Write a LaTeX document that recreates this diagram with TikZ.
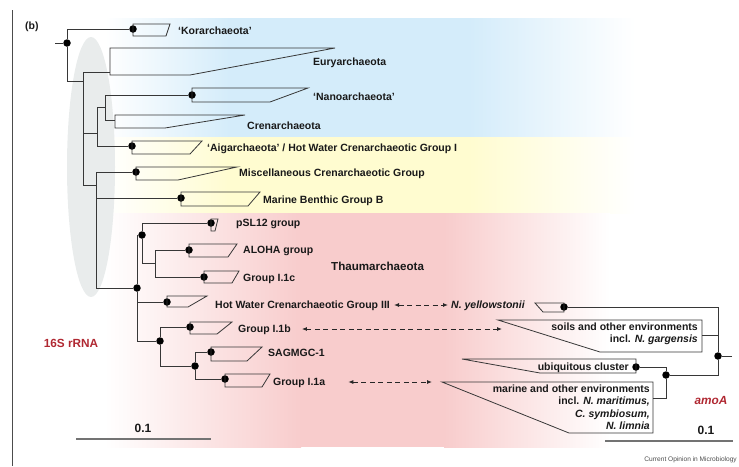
\documentclass[tikz,border=0pt]{standalone}
\usepackage{fontspec}
\setmainfont{Liberation Sans}
\usepackage{xcolor}
\usepackage{tikz}
\usetikzlibrary{arrows.meta}

\definecolor{branchgray}{RGB}{55,55,55}
\definecolor{bandblue}{RGB}{212,236,250}
\definecolor{bandyellow}{RGB}{255,252,208}
\definecolor{bandpink}{RGB}{248,204,204}
\definecolor{ovalgray}{RGB}{233,236,236}
\definecolor{markerred}{RGB}{176,40,50}

\tikzset{
  vertex/.style={circle,fill=black,minimum size=7.5pt,inner sep=0pt},
  branch/.style={draw=branchgray,line width=0.9pt},
  clade/.style={draw=branchgray,line width=0.8pt},
  cladename/.style={font=\fontsize{10.5}{12.5}\selectfont\bfseries,text=black!90,inner sep=0pt},
  taxon/.style={cladename,text height=7.5pt,text depth=0pt},
  marker/.style={cladename,font=\fontsize{11.8}{14}\selectfont\bfseries,text=markerred},
  link/.style={draw=black!85,line width=0.9pt,dash pattern=on 5pt off 3.5pt,
    {Latex[length=5pt,width=4pt]}-{Latex[length=5pt,width=4pt]}},
  scalebar/.style={draw=black!55,line width=1.1pt},
}

\newcommand{\cladewedge}[5]{%
  \draw[clade] ([shift={(0,-#2)}]#1.center) -- ++(#4,0)
    -- ([shift={(#5,#3)}]#1.center) -- ([shift={(0,#3)}]#1.center) -- cycle;}

\begin{document}
\begin{tikzpicture}[x=1pt,y=-1pt]
\useasboundingbox (0,0) rectangle (739,466);

\foreach \col/\ytop/\ybot/\xin/\xout in {bandblue/18/137/230/470,
    bandyellow/137/213/230/470, bandpink/213/447/300/445}{
  \shade[left color=white,right color=\col] (105,\ytop) rectangle (\xin+1,\ybot);
  \fill[\col] (\xin,\ytop) rectangle (\xout,\ybot);
  \shade[left color=\col,right color=white] (\xout-1,\ytop) rectangle (\xout+165,\ybot);
}
\fill[ovalgray] (91,167) ellipse [x radius=24, y radius=130];
\draw[black!70,line width=0.8pt] (12,10) -- (12,466);

\coordinate (r0) at (55,43);
\node[vertex] (r) at (67,43) {};
\node[vertex] (kor) at (133,29) {};
\coordinate (b) at (83,81);
\coordinate (eury) at (110,72);
\coordinate (c) at (97,133);
\coordinate (d) at (105,107);
\node[vertex] (nano) at (192,95) {};
\coordinate (cren) at (115,120);
\node[vertex] (aig) at (132,146) {};
\coordinate (e) at (96,185);
\node[vertex] (misc) at (136,172) {};
\node[vertex] (mbg) at (181,198) {};
\node[vertex] (t) at (137,288) {};
\node[vertex] (p) at (142,235) {};
\node[vertex] (psl) at (211,223) {};
\coordinate (q) at (155,263);
\node[vertex] (aloha) at (189,250) {};
\node[vertex] (ic) at (204,277) {};
\node[vertex] (hwc) at (167,302) {};
\node[vertex] (rr) at (160,341) {};
\node[vertex] (ib) at (190,327) {};
\node[vertex] (s) at (195,366) {};
\node[vertex] (sag) at (211,352) {};
\node[vertex] (ia) at (225,379) {};

\node[vertex] (ar) at (718,356) {};
\coordinate (ar0) at (732,356);
\node[vertex] (yel) at (564,307) {};
\coordinate (soil) at (702,335);
\node[vertex] (am) at (666,375) {};
\node[vertex] (ubi) at (636,367) {};
\coordinate (mar) at (653,398);

\draw[branch] (r0) -- (r);
\draw[branch] (r) |- (kor);
\draw[branch] (r) |- (b);
\draw[branch] (b) |- (eury);
\draw[branch] (b) |- (c);
\draw[branch] (b) |- (e);
\draw[branch] (c) |- (d);
\draw[branch] (c) |- (aig);
\draw[branch] (d) |- (nano);
\draw[branch] (d) |- (cren);
\draw[branch] (e) |- (misc);
\draw[branch] (e) |- (mbg);
\draw[branch] (e) |- (t);
\draw[branch] (t) |- (p);
\draw[branch] (t) |- (hwc);
\draw[branch] (t) |- (rr);
\draw[branch] (p) |- (psl);
\draw[branch] (p) |- (q);
\draw[branch] (q) |- (aloha);
\draw[branch] (q) |- (ic);
\draw[branch] (rr) |- (ib);
\draw[branch] (rr) |- (s);
\draw[branch] (s) |- (sag);
\draw[branch] (s) |- (ia);

\draw[branch] (ar0) -- (ar);
\draw[branch] (ar) |- (yel);
\draw[branch] (ar) |- (soil);
\draw[branch] (ar) |- (am);
\draw[branch] (am) |- (ubi);
\draw[branch] (am) |- (mar);

\cladewedge{kor}{5}{7}{37}{33}
\cladewedge{eury}{24}{3}{225}{80}
\cladewedge{nano}{7}{7}{116}{78}
\cladewedge{cren}{5}{8}{130}{50}
\cladewedge{aig}{5}{8}{70}{58}
\cladewedge{misc}{5}{8}{101}{42}
\cladewedge{mbg}{6}{8}{79}{67}
\cladewedge{psl}{4}{8}{7}{4}
\cladewedge{aloha}{6}{7}{48}{39}
\cladewedge{ic}{6}{6}{35}{28}
\cladewedge{hwc}{6}{5}{40}{21}
\cladewedge{ib}{5}{7}{42}{27}
\cladewedge{sag}{5}{9}{51}{36}
\cladewedge{ia}{5}{8}{45}{37}
\cladewedge{yel}{4}{5}{-29}{-21}
\cladewedge{soil}{15}{17}{-204}{-102}
\cladewedge{ubi}{8}{6}{-174}{-96}
\cladewedge{mar}{16}{35}{-211}{-84}

\node[cladename,anchor=west] (panel) at (25,27) {(b)};
\node[taxon,anchor=west] (korlab) at (178,31) {`Korarchaeota'};
\node[taxon,anchor=west] (eurylab) at (313,62) {Euryarchaeota};
\node[taxon,anchor=west] (nanolab) at (313,97) {`Nanoarchaeota'};
\node[taxon,anchor=west] (crenlab) at (247,126) {Crenarchaeota};
\node[taxon,anchor=west] (aiglab) at (207,148) {`Aigarchaeota' / Hot Water Crenarchaeotic Group I};
\node[taxon,anchor=west] (misclab) at (239,173) {Miscellaneous Crenarchaeotic Group};
\node[taxon,anchor=west] (mbglab) at (263,200) {Marine Benthic Group B};
\node[taxon,anchor=west] (psllab) at (236,223) {pSL12 group};
\node[taxon,anchor=west] (alohalab) at (243,250) {ALOHA group};
\node[taxon,anchor=west] (iclab) at (243,278) {Group I.1c};
\node[taxon,anchor=west,font=\fontsize{11.6}{14}\selectfont\bfseries] (thaumlab) at (331,267) {Thaumarchaeota};
\node[taxon,anchor=west] (hwclab) at (215,305) {Hot Water Crenarchaeotic Group III};
\node[taxon,anchor=west] (yellab) at (451,305) {\itshape N. yellowstonii};
\node[taxon,anchor=west] (iblab) at (238,329) {Group I.1b};
\node[taxon,anchor=west] (saglab) at (268,353) {SAGMGC-1};
\node[taxon,anchor=west] (ialab) at (273,382) {Group I.1a};
\node[cladename,anchor=east,align=right] (soillab) at (698,334)
  {soils and other environments\\incl. \textit{N. gargensis}};
\node[taxon,anchor=east] (ubilab) at (629,367) {ubiquitous cluster};
\node[cladename,anchor=east,align=right] (marlab) at (650,407)
  {marine and other environments\\incl. \textit{N. maritimus,}\\\textit{C. symbiosum,}\\\textit{N. limnia}};
\node[marker] (rrnalab) at (71,343) {16S rRNA};
\node[marker] (amoalab) at (711,400) {\itshape amoA};

\coordinate (ibend) at (502,329);
\coordinate (iaend) at (432,382);
\draw[link,shorten <=4pt,shorten >=3pt] (hwclab) -- (yellab);
\draw[link,shorten <=11pt] (iblab) -- (ibend);
\draw[link,shorten <=23pt] (ialab) -- (iaend);

\coordinate (sb1a) at (76,439);
\coordinate (sb1b) at (211,439);
\coordinate (sb2a) at (605,441);
\coordinate (sb2b) at (733,441);
\draw[scalebar] (sb1a) -- (sb1b);
\draw[scalebar] (sb2a) -- (sb2b);
\node[cladename,font=\fontsize{12}{14}\selectfont\bfseries] (sb1lab) at (143,428) {0.1};
\node[cladename,font=\fontsize{12}{14}\selectfont\bfseries] (sb2lab) at (706,430) {0.1};
\node[anchor=east,inner sep=0pt,font=\fontsize{6.6}{8}\selectfont,text=black!70] (credit) at (737,460)
  {Current Opinion in Microbiology};
\end{tikzpicture}
\end{document}
